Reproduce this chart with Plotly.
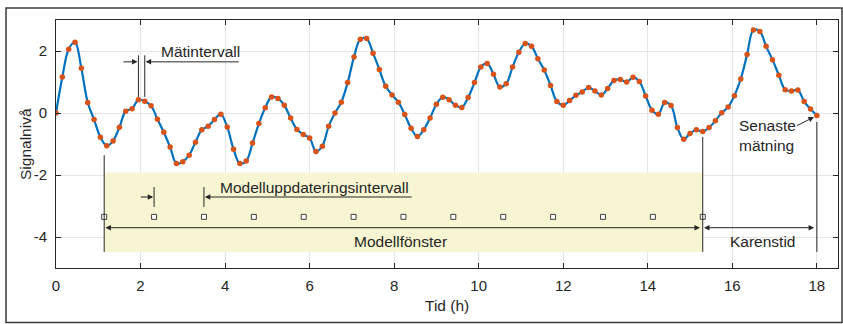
import plotly.graph_objects as go

# ---------------- data ----------------
dt = 0.15  # measurement interval (h)
signal = [0.00, 1.16, 2.06, 2.28, 1.44, 0.34, -0.21, -0.78, -1.06, -0.90,
          -0.46, 0.06, 0.14, 0.43, 0.38, 0.23, -0.20, -0.62, -1.10, -1.63,
          -1.57, -1.36, -0.94, -0.54, -0.43, -0.21, -0.04, -0.45, -1.17, -1.63,
          -1.55, -0.97, -0.34, 0.17, 0.52, 0.47, 0.25, -0.16, -0.53, -0.69,
          -0.81, -1.24, -1.07, -0.43, 0.00, 0.35, 0.98, 1.81, 2.38, 2.40,
          1.93, 1.40, 0.86, 0.58, 0.35, -0.05, -0.49, -0.76, -0.54, -0.16,
          0.28, 0.51, 0.43, 0.25, 0.18, 0.50, 0.98, 1.48, 1.60, 1.25,
          0.84, 0.94, 1.48, 1.96, 2.24, 2.15, 1.75, 1.39, 0.89, 0.37,
          0.25, 0.40, 0.57, 0.68, 0.82, 0.71, 0.58, 0.79, 1.05, 1.08,
          1.00, 1.15, 1.02, 0.55, 0.09, -0.04, 0.34, 0.24, -0.47, -0.85,
          -0.66, -0.54, -0.60, -0.47, -0.25, 0.01, 0.19, 0.56, 1.10, 1.89,
          2.68, 2.63, 2.15, 1.72, 1.22, 0.75, 0.71, 0.74, 0.37, 0.13,
          -0.08]
times = [round(dt * i, 2) for i in range(len(signal))]

update_times = [1.14, 2.32, 3.50, 4.68, 5.86, 7.04, 8.22, 9.40, 10.58,
                11.76, 12.94, 14.12, 15.30]
update_level = [-3.35] * len(update_times)

x_ticks = [0, 2, 4, 6, 8, 10, 12, 14, 16, 18]
y_ticks = [-4, -2, 0, 2]

x_label = "Tid (h)"
y_label = "Signalnivå"

# ---------------- styling ----------------
DARK = "#262626"
FONT = "Liberation Sans, Arial, Helvetica, sans-serif"
TFS = 15.5

win_start, win_end, t_last = update_times[0], update_times[-1], times[-1]
box_top, box_bot = -1.92, -4.48
arrow_y = -3.70

fig = go.Figure()

fig.add_trace(go.Scatter(
    x=times, y=signal, mode="lines",
    line=dict(color="#0072BD", width=2.2, shape="spline", smoothing=1.0),
    hoverinfo="skip", showlegend=False))
fig.add_trace(go.Scatter(
    x=times, y=signal, mode="markers",
    marker=dict(color="#D95319", size=5.5, line=dict(width=0)),
    showlegend=False))
fig.add_trace(go.Scatter(
    x=update_times, y=update_level, mode="markers",
    marker=dict(symbol="square", size=5, color="white",
                line=dict(color="#404040", width=1)),
    showlegend=False))

shapes = []
# model window background
shapes.append(dict(type="rect", xref="x", yref="y", x0=win_start, x1=win_end,
                   y0=box_bot, y1=box_top, fillcolor="rgb(248,246,210)",
                   line=dict(width=0), layer="between"))
# vertical marker lines
for x0, ytop in [(win_start, -1.36), (win_end, -0.77), (t_last, -0.29)]:
    shapes.append(dict(type="line", xref="x", yref="y", x0=x0, x1=x0,
                       y0=ytop, y1=box_bot, line=dict(color=DARK, width=1)))
# Mätintervall bars
for x0 in [times[13], times[14]]:
    shapes.append(dict(type="line", xref="x", yref="y", x0=x0, x1=x0,
                       y0=0.52, y1=1.86, line=dict(color=DARK, width=1)))
# model update interval bars
for x0 in [update_times[1], update_times[2]]:
    shapes.append(dict(type="line", xref="x", yref="y", x0=x0, x1=x0,
                       y0=-2.39, y1=-3.03, line=dict(color=DARK, width=1)))
# outer figure frame
pl, pr, pt, pb = 56, 838, 20, 268
W, H = 843, 324
def px2paper_x(p): return (p - pl) / (pr - pl)
def px2paper_y(p): return (pb - p) / (pb - pt)
shapes.append(dict(type="rect", xref="paper", yref="paper",
                   x0=px2paper_x(6), x1=px2paper_x(842),
                   y0=px2paper_y(322.5), y1=px2paper_y(8),
                   line=dict(color="#3a3a3a", width=1.5), layer="below"))

def arrow(xh, yh, xt, yt, side="end"):
    return dict(x=xh, y=yh, ax=xt, ay=yt, xref="x", yref="y", axref="x",
                ayref="y", text="", showarrow=True, arrowhead=2,
                arrowsize=1.1, arrowwidth=1, arrowcolor=DARK, arrowside=side,
                standoff=0, startstandoff=0)

def label(x, y, text, xanchor="left", yanchor="middle", align="left"):
    return dict(x=x, y=y, xref="x", yref="y", text=text, showarrow=False,
                xanchor=xanchor, yanchor=yanchor, align=align,
                font=dict(family=FONT, size=TFS, color=DARK))

annotations = [
    arrow(times[13] - 0.02, 1.65, 1.56, 1.65),
    arrow(times[14] + 0.02, 1.65, 4.36, 1.65),
    label(2.44, 1.97, "Mätintervall"),
    arrow(update_times[1] - 0.02, -2.71, 1.97, -2.71),
    arrow(update_times[2] + 0.02, -2.71, 8.45, -2.71),
    label(3.84, -2.39, "Modelluppdateringsintervall"),
    arrow(win_start + 0.03, arrow_y, win_end - 0.03, arrow_y, side="end+start"),
    arrow(win_end + 0.03, arrow_y, t_last - 0.03, arrow_y, side="end+start"),
    label(8.15, -4.16, "Modellfönster", xanchor="center"),
    label(16.72, -4.16, "Karenstid", xanchor="center"),
    label(16.10, -0.72, "Senaste<br>mätning"),
    arrow(17.93, -0.13, 17.50, -0.43),
    dict(x=px2paper_x(25), y=px2paper_y(144), xref="paper", yref="paper",
         xanchor="center", yanchor="middle",
         text=y_label, textangle=-90, showarrow=False,
         font=dict(family=FONT, size=TFS, color=DARK)),
    dict(x=0.5, y=px2paper_y(305), xref="paper", yref="paper",
         xanchor="center", yanchor="middle",
         text=x_label, showarrow=False,
         font=dict(family=FONT, size=TFS, color=DARK)),
]

axis_common = dict(showline=True, linecolor=DARK, linewidth=1, mirror="ticks",
                   ticks="inside", ticklen=5, tickcolor=DARK, tickwidth=1,
                   showgrid=True, gridcolor="#e6e6e6", gridwidth=1,
                   zeroline=False, tickfont=dict(family=FONT, size=15, color=DARK))

fig.update_layout(
    width=W, height=H,
    margin=dict(l=pl, r=W - pr, t=pt, b=H - pb),
    paper_bgcolor="white", plot_bgcolor="white",
    xaxis=dict(range=[0, 18.5], tickvals=x_ticks,
               ticktext=[str(v) for v in x_ticks], ticklabelstandoff=4,
               **axis_common),
    yaxis=dict(range=[-5, 3], tickvals=y_ticks,
               ticktext=[str(v) for v in y_ticks], ticklabelstandoff=5,
               **axis_common),
    shapes=shapes, annotations=annotations, showlegend=False,
    font=dict(family=FONT, color=DARK),
)

fig.write_html("out.html", config={"displayModeBar": False},
               post_script="document.body.style.margin='0';"
                           "document.body.style.overflow='hidden';")
